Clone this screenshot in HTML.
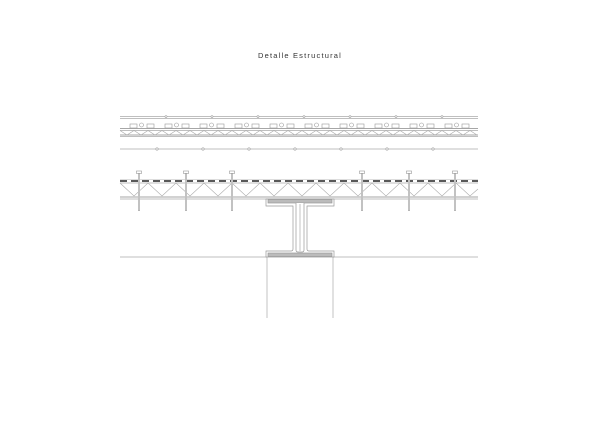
<!DOCTYPE html>
<html><head><style>body{margin:0;background:#fff}svg{display:block}</style></head><body>
<svg width="600" height="424" viewBox="0 0 600 424" xmlns="http://www.w3.org/2000/svg">
<rect width="600" height="424" fill="#fff"/>
<text x="300" y="58" text-anchor="middle" font-family="Liberation Sans, sans-serif" font-size="7.5" letter-spacing="1.2" fill="#333">Detalle Estructural</text>
<g stroke="#aaa" stroke-width="0.7" fill="none">
<line x1="120" y1="116.5" x2="478" y2="116.5"/>
<line x1="120" y1="118.5" x2="478" y2="118.5"/>
<line x1="120" y1="128.5" x2="478" y2="128.5" stroke="#888"/>
<line x1="120" y1="130.5" x2="478" y2="130.5"/>
<line x1="120" y1="135" x2="478" y2="135" stroke="#888"/>
<line x1="120" y1="136.5" x2="478" y2="136.5"/>
<line x1="120" y1="149" x2="478" y2="149"/>
<line x1="120" y1="183" x2="478" y2="183"/>
<line x1="120" y1="197" x2="478" y2="197" stroke="#888"/>
<line x1="120" y1="199" x2="478" y2="199"/>
<line x1="120" y1="257" x2="267" y2="257"/>
<line x1="333" y1="257" x2="478" y2="257"/>
<line x1="267" y1="257" x2="267" y2="318"/>
<line x1="333" y1="257" x2="333" y2="318"/>
</g>
<g id="z1" stroke="#aaa" stroke-width="0.6" fill="none">
<polyline points="120,130.5 127,135 134,130.5 141,135 148,130.5 155,135 162,130.5 169,135 176,130.5 183,135 190,130.5 197,135 204,130.5 211,135 218,130.5 225,135 232,130.5 239,135 246,130.5 253,135 260,130.5 267,135 274,130.5 281,135 288,130.5 295,135 302,130.5 309,135 316,130.5 323,135 330,130.5 337,135 344,130.5 351,135 358,130.5 365,135 372,130.5 379,135 386,130.5 393,135 400,130.5 407,135 414,130.5 421,135 428,130.5 435,135 442,130.5 449,135 456,130.5 463,135 470,130.5 477,135"/>
<polyline points="120,183 134,196 148,183 162,196 176,183 190,196 204,183 218,196 232,183 246,196 260,183 274,196 288,183 302,196 316,183 330,196 344,183 358,196 372,183 386,196 400,183 414,196 428,183 442,196 456,183 470,196 478,189"/>
</g>
<g stroke="#999" stroke-width="0.6" fill="#fff">
<circle cx="166" cy="116.5" r="1"/><circle cx="212" cy="116.5" r="1"/><circle cx="258" cy="116.5" r="1"/><circle cx="304" cy="116.5" r="1"/><circle cx="350" cy="116.5" r="1"/><circle cx="396" cy="116.5" r="1"/><circle cx="442" cy="116.5" r="1"/>
<circle cx="157" cy="149" r="1.2"/><circle cx="203" cy="149" r="1.2"/><circle cx="249" cy="149" r="1.2"/><circle cx="295" cy="149" r="1.2"/><circle cx="341" cy="149" r="1.2"/><circle cx="387" cy="149" r="1.2"/><circle cx="433" cy="149" r="1.2"/>
</g>
<g stroke="#999" stroke-width="0.6" fill="#fff">
<g><rect x="130" y="124" width="7" height="4"/><circle cx="141.5" cy="125" r="2"/><rect x="147" y="124" width="7" height="4"/></g>
<g><rect x="165" y="124" width="7" height="4"/><circle cx="176.5" cy="125" r="2"/><rect x="182" y="124" width="7" height="4"/></g>
<g><rect x="200" y="124" width="7" height="4"/><circle cx="211.5" cy="125" r="2"/><rect x="217" y="124" width="7" height="4"/></g>
<g><rect x="235" y="124" width="7" height="4"/><circle cx="246.5" cy="125" r="2"/><rect x="252" y="124" width="7" height="4"/></g>
<g><rect x="270" y="124" width="7" height="4"/><circle cx="281.5" cy="125" r="2"/><rect x="287" y="124" width="7" height="4"/></g>
<g><rect x="305" y="124" width="7" height="4"/><circle cx="316.5" cy="125" r="2"/><rect x="322" y="124" width="7" height="4"/></g>
<g><rect x="340" y="124" width="7" height="4"/><circle cx="351.5" cy="125" r="2"/><rect x="357" y="124" width="7" height="4"/></g>
<g><rect x="375" y="124" width="7" height="4"/><circle cx="386.5" cy="125" r="2"/><rect x="392" y="124" width="7" height="4"/></g>
<g><rect x="410" y="124" width="7" height="4"/><circle cx="421.5" cy="125" r="2"/><rect x="427" y="124" width="7" height="4"/></g>
<g><rect x="445" y="124" width="7" height="4"/><circle cx="456.5" cy="125" r="2"/><rect x="462" y="124" width="7" height="4"/></g>
</g>
<line x1="120" y1="181" x2="478" y2="181" stroke="#222" stroke-width="1.6" stroke-dasharray="7,4"/>
<line x1="120" y1="179.5" x2="478" y2="179.5" stroke="#bbb" stroke-width="0.5"/>
<g stroke="#999" stroke-width="0.6" fill="#fff">
<g><rect x="136.5" y="171" width="5" height="2.5"/><rect x="138.3" y="173.5" width="1.4" height="37"/></g>
<g><rect x="183.5" y="171" width="5" height="2.5"/><rect x="185.3" y="173.5" width="1.4" height="37"/></g>
<g><rect x="229.5" y="171" width="5" height="2.5"/><rect x="231.3" y="173.5" width="1.4" height="37"/></g>
<g><rect x="359.5" y="171" width="5" height="2.5"/><rect x="361.3" y="173.5" width="1.4" height="37"/></g>
<g><rect x="406.5" y="171" width="5" height="2.5"/><rect x="408.3" y="173.5" width="1.4" height="37"/></g>
<g><rect x="452.5" y="171" width="5" height="2.5"/><rect x="454.3" y="173.5" width="1.4" height="37"/></g>
</g>
<g stroke="#999" stroke-width="0.7" fill="#fff">
<path d="M266,199 L266,206 L293,206 L293,249 Q293,251 291,251 L266,251 L266,257 L334,257 L334,251 L309,251 Q307,251 307,249 L307,206 L334,206 L334,199 Z"/>
<rect x="268" y="199.5" width="64" height="3.5" fill="#bbb"/>
<rect x="268" y="253" width="64" height="3.5" fill="#bbb"/>
<path d="M296,203 L296,250 Q296,252 298,252 L302,252 Q304,252 304,250 L304,203" fill="#fff"/>
<line x1="300" y1="204" x2="300" y2="251" stroke="#aaa"/>
</g>
</svg>
</body></html>
